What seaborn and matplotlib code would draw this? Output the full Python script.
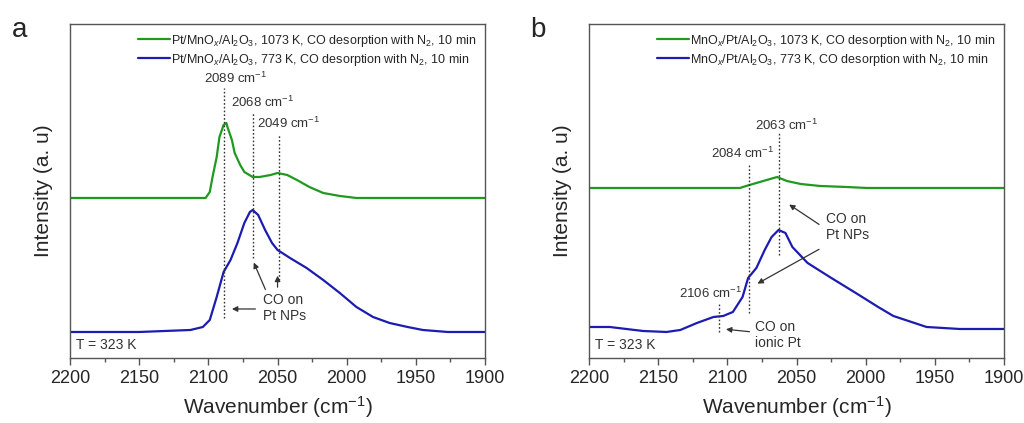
"""
CO-DRIFTS spectra after CO desorption with N2 (panel a: Pt/MnOx/Al2O3, panel b: MnOx/Pt/Al2O3)
"""

import numpy as np
import pandas as pd
import seaborn as sns
import matplotlib
matplotlib.use("Agg")
import matplotlib.pyplot as plt

# ------------------------------
# Data (intensity in arbitrary units)
# ------------------------------
a_green_wn = [2200, 2113, 2102, 2099, 2097, 2094, 2092, 2089, 2087, 2086, 2083, 2081,
              2077, 2074, 2068, 2063, 2055, 2050, 2043, 2036, 2027, 2017, 2005, 1993,
              1983, 1900]
a_green_int = [160, 160, 160, 166, 181, 201, 221, 233, 235, 230, 218, 205,
               193, 186, 181, 181, 183, 185, 183, 178, 171, 165, 162, 160,
               160, 160]

a_blue_wn = [2200, 2150, 2113, 2104, 2099, 2094, 2089, 2084, 2079, 2074, 2070, 2068,
             2064, 2059, 2054, 2050, 2041, 2029, 2017, 2005, 1993, 1981, 1969, 1956,
             1945, 1927, 1900]
a_blue_int = [26, 26, 28, 31, 38, 61, 86, 98, 115, 135, 146, 148,
              143, 128, 115, 108, 100, 90, 78, 65, 51, 41, 35, 31,
              28, 26, 26]

b_green_wn = [2200, 2134, 2091, 2084, 2074, 2064, 2057, 2047, 2033, 2014, 1999, 1900]
b_green_int = [170, 170, 170, 173, 177, 181, 177, 174, 172, 171, 170, 170]

b_blue_wn = [2200, 2185, 2161, 2144, 2134, 2122, 2110, 2103, 2096, 2089, 2085, 2079,
             2073, 2068, 2063, 2058, 2053, 2042, 2026, 2006, 1991, 1980, 1956, 1932,
             1900]
b_blue_int = [31, 31, 27, 26, 28, 35, 41, 42, 46, 61, 80, 90,
              108, 121, 128, 125, 111, 95, 81, 64, 51, 42, 31, 29,
              29]

a_labels = ["Pt/MnO$_x$/Al$_2$O$_3$, 1073 K, CO desorption with N$_2$, 10 min",
            "Pt/MnO$_x$/Al$_2$O$_3$, 773 K, CO desorption with N$_2$, 10 min"]
b_labels = ["MnO$_x$/Pt/Al$_2$O$_3$, 1073 K, CO desorption with N$_2$, 10 min",
            "MnO$_x$/Pt/Al$_2$O$_3$, 773 K, CO desorption with N$_2$, 10 min"]

# peak markers: (wavenumber, line from, line to, label x, label y)
a_peaks = [(2089, 40, 270, 2080, 280), (2068, 100, 245, 2061, 256), (2049, 78, 223, 2042, 235)]
b_peaks = [(2063, 103, 225, 2057, 233), (2084, 45, 195, 2089, 205), (2106, 26, 56, 2112, 65)]

colors = ["#1f9a1f", "#1c1cb0"]

# ------------------------------
# Style
# ------------------------------
sns.set_style("ticks")
plt.rcParams["font.family"] = ["Liberation Sans", "DejaVu Sans"]
plt.rcParams["mathtext.fontset"] = "custom"
plt.rcParams["mathtext.rm"] = "Liberation Sans"
plt.rcParams["mathtext.it"] = "Liberation Sans:italic"
plt.rcParams["mathtext.bf"] = "Liberation Sans:bold"

fig = plt.figure(figsize=(10.24, 4.23), dpi=100)
ax_a = fig.add_axes([0.0684, 0.1537, 0.4053, 0.7896])
ax_b = fig.add_axes([0.5752, 0.1537, 0.4053, 0.7896])


def make_df(g_wn, g_int, b_wn, b_int, labels):
    return pd.concat([
        pd.DataFrame({"wn": g_wn, "I": g_int, "sample": labels[0]}),
        pd.DataFrame({"wn": b_wn, "I": b_int, "sample": labels[1]}),
    ])


def draw(ax, df, labels, peaks):
    sns.lineplot(data=df, x="wn", y="I", hue="sample", hue_order=labels,
                 palette=colors, linewidth=1.6, sort=False, estimator=None, ax=ax)
    ax.set_xlim(2200, 1900)
    ax.set_ylim(0, 334)
    ax.set_xticks(np.arange(2200, 1899, -50))
    ax.set_xticks(np.arange(2175, 1900, -50), minor=True)
    ax.set_yticks([])
    ax.tick_params(axis="x", which="major", direction="out", length=5, width=1,
                   labelsize=13, color="#555555", pad=4)
    ax.tick_params(axis="x", which="minor", direction="out", length=3, width=1,
                   color="#555555")
    for s in ax.spines.values():
        s.set_visible(True)
        s.set_color("#555555")
        s.set_linewidth(1)
    ax.set_xlabel("Wavenumber (cm$^{-1}$)", fontsize=15, labelpad=5)
    ax.set_ylabel("Intensity (a. u)", fontsize=15, labelpad=12)
    leg = ax.legend(loc="upper right", fontsize=9, frameon=False, handlelength=2.6,
                    handletextpad=0.05, labelspacing=0.25, borderaxespad=0.3)
    for line in leg.get_lines():
        line.set_linewidth(1.6)
    for wn, y0, y1, lx, ly in peaks:
        ax.plot([wn, wn], [y0, y1], ls=(0, (1.2, 1.5)), color="#333333", lw=1)
        ax.text(lx, ly, f"{wn} cm$^{{-1}}$", fontsize=9.5, ha="center",
                va="center", color="#333333")
    ax.text(2196, 13, "T = 323 K", fontsize=10, ha="left", va="center", color="#333333")


draw(ax_a, make_df(a_green_wn, a_green_int, a_blue_wn, a_blue_int, a_labels), a_labels, a_peaks)
draw(ax_b, make_df(b_green_wn, b_green_int, b_blue_wn, b_blue_int, b_labels), b_labels, b_peaks)

arrow = dict(arrowstyle="-|>", color="#333333", lw=0.9, mutation_scale=8)

# panel a annotations
ax_a.text(2060.5, 50, "CO on\nPt NPs", fontsize=10, ha="left", va="center",
          color="#333333", linespacing=1.1)
ax_a.annotate("", xy=(2085, 49), xytext=(2064, 49), arrowprops=arrow)
ax_a.annotate("", xy=(2068, 98), xytext=(2058, 66), arrowprops=arrow)
ax_a.annotate("", xy=(2050, 85), xytext=(2050, 68), arrowprops=arrow)

# panel b annotations
ax_b.text(2029, 131, "CO on\nPt NPs", fontsize=10, ha="left", va="center",
          color="#333333", linespacing=1.1)
ax_b.annotate("", xy=(2057, 155), xytext=(2032, 132), arrowprops=arrow)
ax_b.annotate("", xy=(2080, 73), xytext=(2032, 110), arrowprops=arrow)
ax_b.text(2080, 23, "CO on\nionic Pt", fontsize=10, ha="left", va="center",
          color="#333333", linespacing=1.1)
ax_b.annotate("", xy=(2103, 29), xytext=(2082, 26), arrowprops=arrow)

fig.text(0.012, 0.93, "a", fontsize=20, ha="left", va="center")
fig.text(0.518, 0.93, "b", fontsize=20, ha="left", va="center")

fig.savefig("out.png", dpi=100)
